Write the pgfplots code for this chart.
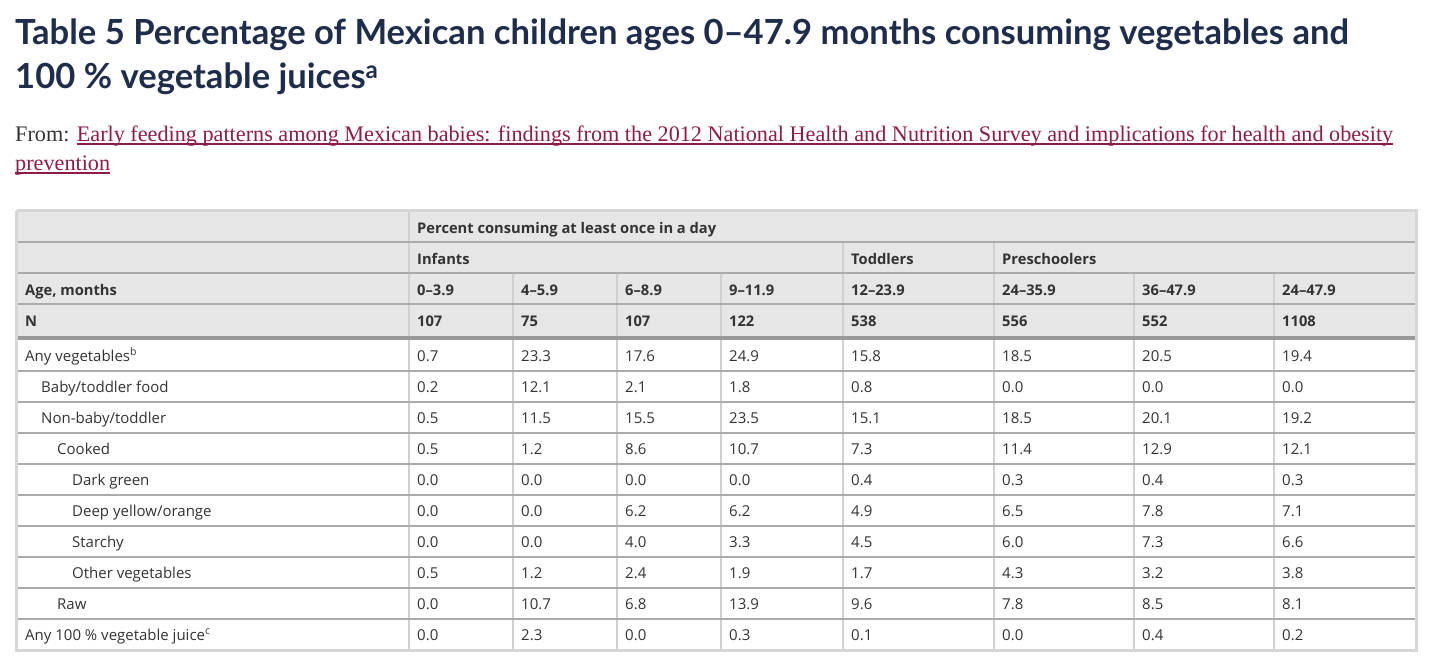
\documentclass[border=0pt]{standalone}
\usepackage{pgfplots}
\pgfplotsset{compat=1.18}
\usepackage{pgfplotstable}
\usepackage{fontspec}
\setmainfont{Open Sans}
\newfontfamily\titlefont{Lato}
\newfontfamily\seriffont{Liberation Serif}
\definecolor{titlecol}{HTML}{1F2D4C}
\definecolor{linkcol}{HTML}{8E1B4B}
\definecolor{txt}{HTML}{333333}
\definecolor{hdrbg}{HTML}{E6E6E6}
\definecolor{framecol}{HTML}{D6D6D6}
\definecolor{hline}{HTML}{ABABAB}
\definecolor{vline}{HTML}{D0D0D0}
\definecolor{thickcol}{HTML}{999999}
\newcommand{\myul}[1]{\setbox0\hbox{#1}\rlap{\rule[-4pt]{\wd0}{1.6pt}}\box0}

% values: percent consuming at least once in a day
\pgfplotstableread{
y   a   b    c    d    e    f    g    h
361 0.7 23.3 17.6 24.9 15.8 18.5 20.5 19.4
392 0.2 12.1 2.1  1.8  0.8  0.0  0.0  0.0
423 0.5 11.5 15.5 23.5 15.1 18.5 20.1 19.2
454 0.5 1.2  8.6  10.7 7.3  11.4 12.9 12.1
485 0.0 0.0  0.0  0.0  0.4  0.3  0.4  0.3
516 0.0 0.0  6.2  6.2  4.9  6.5  7.8  7.1
547 0.0 0.0  4.0  3.3  4.5  6.0  7.3  6.6
578 0.5 1.2  2.4  1.9  1.7  4.3  3.2  3.8
609 0.0 10.7 6.8  13.9 9.6  7.8  8.5  8.1
640 0.0 2.3  0.0  0.3  0.1  0.0  0.4  0.2
}\vegdata

\begin{document}
\begin{tikzpicture}
\begin{axis}[
  scale only axis, width=1447pt, height=665pt,
  xmin=0, xmax=1447, ymin=0, ymax=665, y dir=reverse,
  hide axis, clip=false,
  cell/.style={only marks, mark=none, point meta=explicit symbolic, nodes near coords,
    every node near coord/.style={anchor=base west, inner sep=0pt, text=txt,
      font=\fontsize{15}{18}\selectfont}},
  hcell/.style={cell, every node near coord/.style={anchor=base west, inner sep=0pt, text=txt,
      font=\fontsize{14.7}{18}\selectfont\bfseries}},
]
% background
\addplot[fill=white, draw=none] coordinates {(0,0)(1447,0)(1447,665)(0,665)(0,0)};
% header background
\addplot[fill=hdrbg, draw=none] coordinates {(16,210)(1417,210)(1417,337)(16,337)(16,210)};
% vertical lines
\addplot[draw=vline, line width=1.3pt, unbounded coords=jump] coordinates {
 (409,211)(409,649) (nan,nan)
 (843,242)(843,649) (nan,nan)
 (994,242)(994,649) (nan,nan)
 (513,273)(513,649) (nan,nan)
 (617,273)(617,649) (nan,nan)
 (721,273)(721,649) (nan,nan)
 (1134,273)(1134,649) (nan,nan)
 (1274,273)(1274,649)};
% horizontal lines
\addplot[draw=hline, line width=1.5pt, unbounded coords=jump] coordinates {
 (17,242)(1416,242) (nan,nan)
 (17,273)(1416,273) (nan,nan)
 (17,304)(1416,304) (nan,nan)
 (17,371)(1416,371) (nan,nan)
 (17,402)(1416,402) (nan,nan)
 (17,433)(1416,433) (nan,nan)
 (17,464)(1416,464) (nan,nan)
 (17,495)(1416,495) (nan,nan)
 (17,526)(1416,526) (nan,nan)
 (17,557)(1416,557) (nan,nan)
 (17,588)(1416,588) (nan,nan)
 (17,619)(1416,619)};
\addplot[draw=thickcol, line width=4pt] coordinates {(17,337.5)(1416,337.5)};
% outer frame
\addplot[draw=framecol, line width=3pt] coordinates {(16.5,210.5)(1416.5,210.5)(1416.5,650.5)(16.5,650.5)(16.5,210.5)};

% header texts
\addplot[hcell] coordinates {
 (417,233)[Percent consuming at least once in a day]
 (417,264)[Infants] (851,264)[Toddlers] (1002,264)[Preschoolers]
 (25,295)[Age, months]
 (417,295)[0–3.9] (521,295)[4–5.9] (625,295)[6–8.9] (729,295)[9–11.9]
 (851,295)[12–23.9] (1002,295)[24–35.9] (1142,295)[36–47.9] (1282,295)[24–47.9]
 (25,326)[N]
 (417,326)[107] (521,326)[75] (625,326)[107] (729,326)[122]
 (851,326)[538] (1002,326)[556] (1142,326)[552] (1282,326)[1108]};
% row labels
\addplot[cell] coordinates {
 (25,361)[Any vegetables\textsuperscript{b}]
 (41,392)[Baby/toddler food]
 (41,423)[Non-baby/toddler]
 (57,454)[Cooked]
 (72,485)[Dark green]
 (72,516)[Deep yellow/orange]
 (72,547)[Starchy]
 (72,578)[Other vegetables]
 (57,609)[Raw]
 (25,640)[Any 100 \% vegetable juice\textsuperscript{c}]};
% values
\addplot[cell] table[x expr=417, y=y, meta=a] {\vegdata};
\addplot[cell] table[x expr=521, y=y, meta=b] {\vegdata};
\addplot[cell] table[x expr=625, y=y, meta=c] {\vegdata};
\addplot[cell] table[x expr=729, y=y, meta=d] {\vegdata};
\addplot[cell] table[x expr=851, y=y, meta=e] {\vegdata};
\addplot[cell] table[x expr=1002, y=y, meta=f] {\vegdata};
\addplot[cell] table[x expr=1142, y=y, meta=g] {\vegdata};
\addplot[cell] table[x expr=1282, y=y, meta=h] {\vegdata};

% title and source
\node[anchor=base west, inner sep=0pt, text=titlecol, font=\titlefont\bfseries\fontsize{34.6}{40}\selectfont]
  at (axis cs:15,44) {Table 5 Percentage of Mexican children ages 0–47.9 months consuming vegetables and};
\node[anchor=base west, inner sep=0pt, text=titlecol, font=\titlefont\bfseries\fontsize{34.6}{40}\selectfont]
  at (axis cs:15,88) {100 \% vegetable juices\textsuperscript{a}};
\node[anchor=base west, inner sep=0pt, text=txt, font=\seriffont\fontsize{22.2}{26}\selectfont]
  at (axis cs:15,141) {From: \textcolor{linkcol}{\myul{Early feeding patterns among Mexican babies: findings from the 2012 National Health and Nutrition Survey and implications for health and obesity}}};
\node[anchor=base west, inner sep=0pt, text=linkcol, font=\seriffont\fontsize{22.2}{26}\selectfont]
  at (axis cs:15,170) {\myul{prevention}};
\end{axis}
\end{tikzpicture}
\end{document}
